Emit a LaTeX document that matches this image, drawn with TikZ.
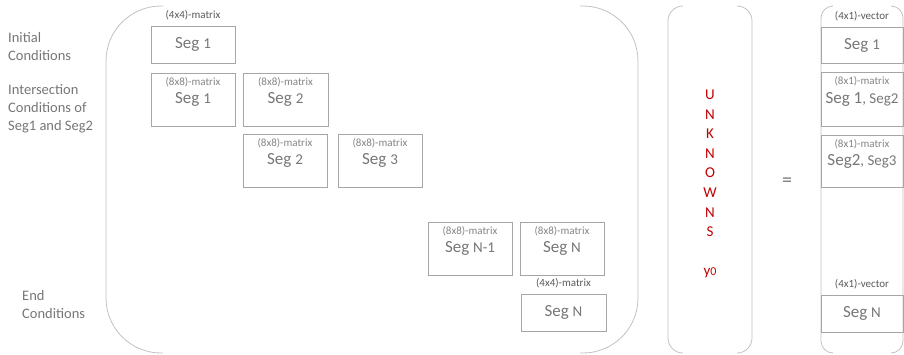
\documentclass[tikz,border=0pt]{standalone}
\usepackage{fontspec}
\setmainfont{Carlito}
\usepackage{tikz}
\usetikzlibrary{positioning}

\definecolor{boxgray}{HTML}{A6A6A6}
\definecolor{txtgray}{HTML}{767676}
\definecolor{darkgray}{HTML}{595959}
\definecolor{unkred}{HTML}{C00000}

\newcommand{\nm}[1]{{\fontsize{15}{17}\selectfont #1}}

\begin{document}
\begin{tikzpicture}[x=1pt, y=-1pt,
  segbox/.style={draw=boxgray, line width=0.8pt, inner sep=0pt, text=txtgray,
    font=\fontsize{17}{20}\selectfont, minimum width=84pt},
  tall/.style={minimum height=53pt},
  short/.style={minimum height=37pt},
  vecbox/.style={segbox, minimum width=82pt},
  mlbl/.style={inner sep=0pt, text=txtgray!90, font=\fontsize{11}{13}\selectfont},
  olbl/.style={inner sep=0pt, text=darkgray, font=\fontsize{11}{13}\selectfont},
  side/.style={inner sep=0pt, anchor=west, align=left, text=txtgray,
    font=\fontsize{14.5}{18}\selectfont},
  brace/.style={draw=boxgray!70, line width=0.8pt}]
\useasboundingbox (0,0) rectangle (904,354);

% coefficient matrix
\draw[brace, rounded corners=55pt] (163,6) -- (106,6) -- (106,353) -- (163,353);
\draw[brace, rounded corners=55pt] (580,6) -- (638,6) -- (638,353) -- (580,353);

\node[side] (ic) at (8,47) {Initial\\Conditions};
\node[side] (isc) at (8,109) {Intersection\\Conditions of\\Seg1 and Seg2};
\node[side] (ec) at (22,305) {End\\Conditions};

\node[segbox, short] (s11) at (193,44.5) {Seg \nm{1}};
\node[olbl, above=5pt of s11] (s11l) {(4x4)-matrix};

\node[segbox, tall] (s21) at (193,99.5) {Seg \nm{1}};
\node[segbox, tall, minimum width=85pt] (s22) at (285.5,99.5) {Seg \nm{2}};
\node[segbox, tall] (s32) at (285,160.5) {Seg \nm{2}};
\node[segbox, tall] (s33) at (380,160.5) {Seg \nm{3}};
\node[segbox, tall] (sn1) at (470,248.5) {Seg \nm{N-1}};
\node[segbox, tall] (snn) at (562,248.5) {Seg \nm{N}};
\node[mlbl, below=5pt of s21.north] (s21l) {(8x8)-matrix};
\node[mlbl, below=5pt of s22.north] (s22l) {(8x8)-matrix};
\node[mlbl, below=5pt of s32.north] (s32l) {(8x8)-matrix};
\node[mlbl, below=5pt of s33.north] (s33l) {(8x8)-matrix};
\node[mlbl, below=5pt of sn1.north] (sn1l) {(8x8)-matrix};
\node[mlbl, below=5pt of snn.north] (snnl) {(8x8)-matrix};

\node[segbox, short, minimum width=85pt] (sne) at (563.5,312.5) {Seg \nm{N}};
\node[olbl, above=5pt of sne] (snel) {(4x4)-matrix};

% unknowns
\draw[brace, rounded corners=15pt] (683,6) -- (668,6) -- (668,353) -- (683,353);
\draw[brace, rounded corners=15pt] (737,6) -- (752,6) -- (752,353) -- (737,353);
\node[align=center, text=unkred, font=\fontsize{15}{19.6}\selectfont] (unk) at (710,184)
  {U\\N\\K\\N\\O\\W\\N\\S\\[19.6pt]y{\fontsize{12}{14}\selectfont 0}};

\node[text=txtgray, font=\fontsize{20}{22}\selectfont] (eq) at (787,182) {=};

% right hand side
\draw[brace, rounded corners=12pt] (833,6) -- (821,6) -- (821,353) -- (833,353);
\draw[brace, rounded corners=12pt] (891,6) -- (903,6) -- (903,353) -- (891,353);

\node[vecbox, minimum height=36pt] (v1) at (862,45) {Seg \nm{1}};
\node[olbl, above=5pt of v1] (v1l) {(4x1)-vector};
\node[vecbox, minimum height=54pt] (v2) at (862,99) {Seg 1\nm{, Seg2}};
\node[mlbl, below=5pt of v2.north] (v2l) {(8x1)-matrix};
\node[vecbox, minimum height=52pt] (v3) at (862,161) {Seg2\nm{, Seg3}};
\node[mlbl, below=5pt of v3.north] (v3l) {(8x1)-matrix};
\node[vecbox, minimum height=37pt] (vn) at (862,313.5) {Seg \nm{N}};
\node[olbl, above=5pt of vn] (vnl) {(4x1)-vector};
\end{tikzpicture}
\end{document}
